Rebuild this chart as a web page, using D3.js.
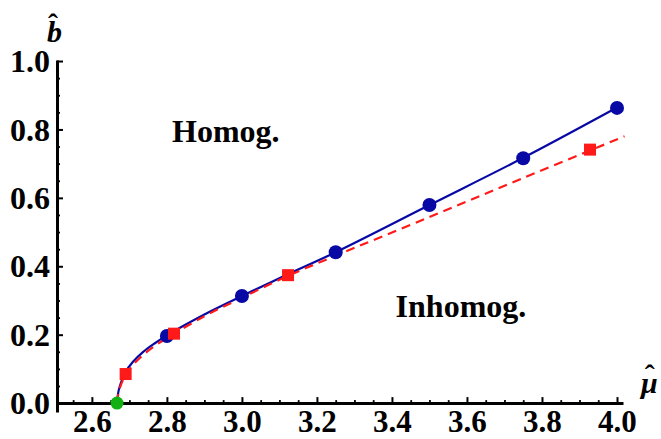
<!DOCTYPE html>
<html>
<head>
<meta charset="utf-8">
<script src="https://cdn.jsdelivr.net/npm/d3@7"></script>
<style>
  body { margin: 0; background: #fff; }
  svg { display: block; }
  svg text { font-family: "Liberation Serif", "Times New Roman", Times, "DejaVu Serif", serif !important; }
</style>
</head>
<body>
<div class="chart"></div>
<script>
const width = 661;
const height = 439;

// solid blue curve and its dots
const blueCurveMu = [2.667, 2.671, 2.677, 2.688, 2.709, 2.736, 2.768, 2.8, 2.9, 3.0, 3.125, 3.25, 3.5, 3.75, 4.0];
const blueCurveB = [0, 0.035, 0.058, 0.088, 0.12, 0.149, 0.175, 0.198, 0.259, 0.313, 0.378, 0.441, 0.579, 0.717, 0.864];
const blueDotsMu = [2.8, 3.0, 3.25, 3.5, 3.75, 4.0];
const blueDotsB = [0.196, 0.313, 0.441, 0.579, 0.716, 0.863];

// dashed red curve and its squares
const redCurveMu = [2.667, 2.671, 2.678, 2.69, 2.71, 2.74, 2.77, 2.8, 2.9, 3.0, 3.123, 3.25, 3.5, 3.75, 4.02];
const redCurveB = [0, 0.03, 0.055, 0.082, 0.112, 0.144, 0.169, 0.19, 0.254, 0.308, 0.372, 0.431, 0.544, 0.658, 0.78];
const redSquaresMu = [2.69, 2.819, 3.123, 3.928];
const redSquaresB = [0.085, 0.203, 0.374, 0.741];

// green point
const greenMu = [2.667];
const greenB = [0];

const xTicks = [2.6, 2.8, 3.0, 3.2, 3.4, 3.6, 3.8, 4.0];
const yTicks = [0.0, 0.2, 0.4, 0.6, 0.8, 1.0];
const xMinor = d3.range(51, 81).map(i => i * 0.05).filter(v => Math.abs(v * 5 - Math.round(v * 5)) > 1e-6);
const yMinor = d3.range(1, 20).map(i => i * 0.05).filter(v => Math.abs(v * 5 - Math.round(v * 5)) > 1e-6);

const regionLabels = ['Homog.', 'Inhomog.'];
const regionMu = [2.957, 3.584];
const regionB = [0.763, 0.251];

const svg = d3.select('.chart')
  .append('svg')
  .attr('width', width)
  .attr('height', height);

const xScale = d3.scaleLinear().domain([2.507, 4.016]).range([57, 623]);
const yScale = d3.scaleLinear().domain([-0.026, 1.003]).range([412, 60]);

// minor ticks
svg.append('g')
  .attr('transform', `translate(0, ${yScale(0)})`)
  .call(d3.axisBottom(xScale).tickValues(xMinor).tickSize(-3).tickSizeOuter(0).tickFormat(''))
  .call(g => g.select('.domain').remove())
  .selectAll('line').attr('stroke-width', 1.8);

svg.append('g')
  .attr('transform', `translate(${xScale(2.507)}, 0)`)
  .call(d3.axisLeft(yScale).tickValues(yMinor).tickSize(-3).tickSizeOuter(0).tickFormat(''))
  .call(g => g.select('.domain').remove())
  .selectAll('line').attr('stroke-width', 1.8);

// major ticks + axis lines
const xAxis = svg.append('g')
  .attr('transform', `translate(0, ${yScale(0)})`)
  .call(d3.axisBottom(xScale).tickValues(xTicks).tickSize(-6).tickSizeOuter(0).tickFormat(d3.format('.1f')));
xAxis.select('.domain').attr('stroke-width', 3);
xAxis.selectAll('line').attr('stroke-width', 2);
xAxis.selectAll('text')
  .attr('font-size', 31)
  .attr('font-weight', 'bold')
  .attr('fill', '#000')
  .attr('dy', null)
  .attr('y', 29);

const yAxis = svg.append('g')
  .attr('transform', `translate(${xScale(2.507)}, 0)`)
  .call(d3.axisLeft(yScale).tickValues(yTicks).tickSize(-6).tickSizeOuter(0).tickPadding(7).tickFormat(d3.format('.1f')));
yAxis.select('.domain').attr('stroke-width', 3);
yAxis.selectAll('line').attr('stroke-width', 2);
yAxis.selectAll('text')
  .attr('font-size', 32)
  .attr('font-weight', 'bold')
  .attr('fill', '#000')
  .attr('dy', '0.33em');

const line = d3.line()
  .x(d => xScale(d[0]))
  .y(d => yScale(d[1]))
  .curve(d3.curveCatmullRom.alpha(0.5));

svg.append('path')
  .datum(blueCurveMu.map((m, i) => [m, blueCurveB[i]]))
  .attr('d', line)
  .attr('fill', 'none')
  .attr('stroke', '#0808a4')
  .attr('stroke-width', 2.2);

svg.append('path')
  .datum(redCurveMu.map((m, i) => [m, redCurveB[i]]))
  .attr('d', line)
  .attr('fill', 'none')
  .attr('stroke', '#ff1a1a')
  .attr('stroke-width', 2.2)
  .attr('stroke-dasharray', '9,6');

svg.selectAll('circle.blue')
  .data(blueDotsMu)
  .enter()
  .append('circle')
  .attr('class', 'blue')
  .attr('cx', d => xScale(d))
  .attr('cy', (_d, i) => yScale(blueDotsB[i]))
  .attr('r', 7)
  .attr('fill', '#0808a4');

svg.selectAll('rect.red')
  .data(redSquaresMu)
  .enter()
  .append('rect')
  .attr('class', 'red')
  .attr('x', d => xScale(d) - 6)
  .attr('y', (_d, i) => yScale(redSquaresB[i]) - 6)
  .attr('width', 12)
  .attr('height', 12)
  .attr('fill', '#ff1a1a');

svg.selectAll('circle.green')
  .data(greenMu)
  .enter()
  .append('circle')
  .attr('class', 'green')
  .attr('cx', d => xScale(d))
  .attr('cy', (_d, i) => yScale(greenB[i]))
  .attr('r', 6.5)
  .attr('fill', '#12b012');

svg.selectAll('text.region')
  .data(regionLabels)
  .enter()
  .append('text')
  .attr('class', 'region')
  .attr('x', (_d, i) => xScale(regionMu[i]))
  .attr('y', (_d, i) => yScale(regionB[i]))
  .attr('text-anchor', 'middle')
  .attr('font-size', 32)
  .attr('font-weight', 'bold')
  .text(d => d);

// axis labels with hats (one text each, hat as a raised tspan)
const bLabel = svg.append('text')
  .attr('x', 47)
  .attr('y', 42)
  .attr('font-size', 30)
  .attr('font-weight', 'bold');
bLabel.append('tspan').attr('font-style', 'italic').text('b');
bLabel.append('tspan').attr('dx', -14).attr('dy', -8).text('\u02C6');

const muLabel = svg.append('text')
  .attr('x', 641)
  .attr('y', 393)
  .attr('font-size', 30)
  .attr('font-weight', 'bold');
muLabel.append('tspan').attr('font-style', 'italic').text('\u03BC');
muLabel.append('tspan').attr('dx', -13).attr('dy', -8).text('\u02C6');
</script>
</body>
</html>
